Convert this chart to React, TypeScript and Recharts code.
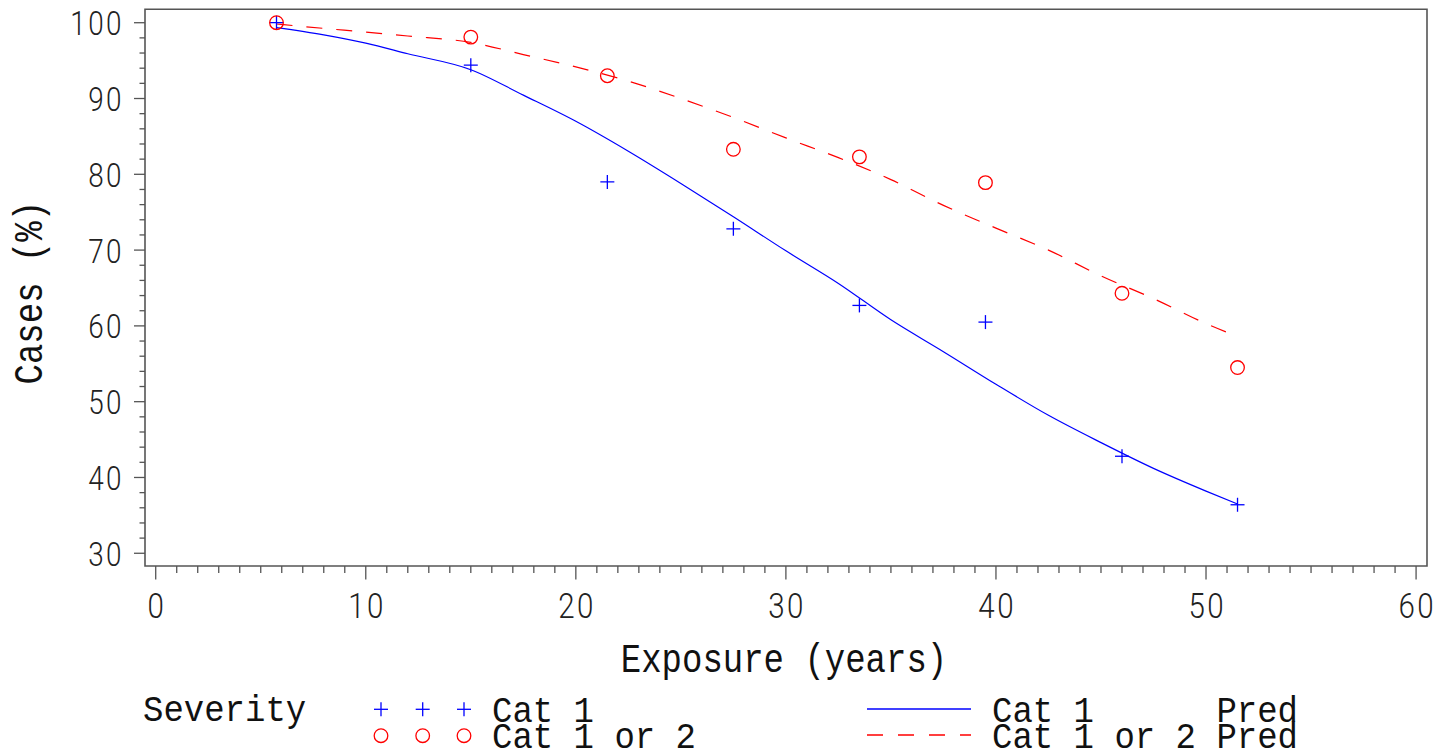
import React from "react";
import {
  ComposedChart,
  Line,
  Scatter,
  XAxis,
  YAxis,
  ReferenceArea,
  Legend,
  Label,
} from "recharts";

const BLUE = "#0000ff";
const RED = "#ff0000";
const FRAME = "#555555";
const TEXT_FONT = "'Liberation Mono', monospace";
const TICK_FONT = "Roboto, 'Liberation Sans', sans-serif";

// observed points
const exposure = [5.75, 15, 21.5, 27.5, 33.5, 39.5, 46, 51.5];
const cat1 = [100, 94.4, 79, 72.8, 62.7, 60.5, 42.8, 36.4];
const cat1or2 = [100, 98.1, 93, 83.3, 82.3, 78.9, 64.3, 54.5];

// fitted curves
const predExposure = [
  5.75, 8, 10, 12, 15, 17.5, 20, 22.5, 25, 27.5, 30, 32.5, 35, 37.5, 40, 42.5,
  45, 47.5, 50, 51.5,
];
const cat1Pred = [
  99.35, 98.4, 97.3, 95.9, 93.8, 90.45, 87.0, 83.05, 78.8, 74.4, 69.9, 65.6,
  60.8, 56.6, 52.3, 48.2, 44.6, 41.2, 38.2, 36.5,
];
const cat1or2Pred = [
  99.83, 99.25, 98.77, 98.25, 97.4, 95.8, 94.17, 92.3, 90.0, 87.5, 84.8, 82.2,
  79.3, 75.9, 72.9, 70.0, 66.6, 63.6, 60.3, 58.6,
];

const xLabels = [0, 10, 20, 30, 40, 50, 60];
const yLabels = [30, 40, 50, 60, 70, 80, 90, 100];
const xTicks = Array.from({ length: 61 }, (_, i) => i);
const yTicks = Array.from({ length: 36 }, (_, i) => 30 + i * 2);

const legendTitle = "Severity";
const legendPoints = ["Cat 1", "Cat 1 or 2"];
const legendLines = ["Cat 1      Pred", "Cat 1 or 2 Pred"];

const toXY = (xs: number[], ys: number[]) => xs.map((x, i) => ({ x, y: ys[i] }));
const cat1Data = toXY(exposure, cat1);
const cat1or2Data = toXY(exposure, cat1or2);
const cat1PredData = toXY(predExposure, cat1Pred);
const cat1or2PredData = toXY(predExposure, cat1or2Pred);

const Txt = ({ x, y, text, size, sx = 1, sy = 1, anchor = "start", font = TEXT_FONT, rotate = 0, fill = "#111", ls = 0, weight = 400 }: any) => (
  <text
    transform={`translate(${x},${y}) rotate(${rotate}) scale(${sx},${sy})`}
    fontSize={size}
    fontFamily={font}
    fontWeight={weight}
    textAnchor={anchor}
    fill={fill}
    letterSpacing={ls}
    style={{ whiteSpace: "pre" }}
  >
    {text}
  </text>
);

const Plus = ({ cx, cy, color }: any) => (
  <g stroke={color} strokeWidth={1.3}>
    <line x1={cx - 7} y1={cy} x2={cx + 7} y2={cy} />
    <line x1={cx} y1={cy - 7} x2={cx} y2={cy + 7} />
  </g>
);

const Ring = ({ cx, cy, color }: any) => (
  <circle cx={cx} cy={cy} r={6.8} fill="none" stroke={color} strokeWidth={1.3} />
);

const XTick = ({ x, y, payload }: any) => {
  const major = xLabels.includes(payload.value);
  return (
    <g>
      <line x1={x} y1={y} x2={x} y2={y + (major ? 13.5 : 7)} stroke={FRAME} strokeWidth={1.3} />
      {major && (
        <Txt x={x + 1.2} y={y + 52} text={String(payload.value)} size={36} sx={0.82} ls={3} anchor="middle" font={TICK_FONT} weight={300} fill="#222" />
      )}
    </g>
  );
};

const YTick = ({ x, y, payload }: any) => {
  const major = yLabels.includes(payload.value);
  return (
    <g>
      <line x1={x} y1={y} x2={x - (major ? 11 : 5.5)} y2={y} stroke={FRAME} strokeWidth={1.3} />
      {major && (
        <Txt x={x - 21} y={y + 12.5} text={String(payload.value)} size={34} sx={0.82} ls={3} anchor="end" font={TICK_FONT} weight={300} fill="#222" />
      )}
    </g>
  );
};

const XTitle = ({ viewBox }: any) => (
  <Txt x={viewBox.x + viewBox.width / 2 - 2} y={viewBox.y + 106} text="Exposure (years)" size={34} sy={1.2} anchor="middle" />
);

const YTitle = ({ viewBox }: any) => (
  <Txt x={33.5} y={viewBox.y + viewBox.height / 2 + 5} text="Cases (%)" size={34} sy={1.2} anchor="middle" rotate={-90} />
);

const LegendBox = () => (
  <svg width={1425} height={64} style={{ display: "block", overflow: "visible" }}>
    <Txt x={135} y={29} text={legendTitle} size={34} sy={1.1} />
    {[373, 414.7, 456].map((cx) => (
      <React.Fragment key={cx}>
        <Plus cx={cx} cy={17.3} color={BLUE} />
        <Ring cx={cx} cy={43.7} color={RED} />
      </React.Fragment>
    ))}
    <Txt x={484} y={29.5} text={legendPoints[0]} size={34} sy={1.1} />
    <Txt x={484} y={56} text={legendPoints[1]} size={34} sy={1.1} />
    <line x1={859} y1={17} x2={963} y2={17} stroke={BLUE} strokeWidth={1.3} />
    <line x1={859} y1={43} x2={963} y2={43} stroke={RED} strokeWidth={1.3} strokeDasharray="16 15" />
    <Txt x={984} y={29.5} text={legendLines[0]} size={34} sy={1.1} />
    <Txt x={984} y={56} text={legendLines[1]} size={34} sy={1.1} />
  </svg>
);

export default function App() {
  return (
    <ComposedChart width={1425} height={748} margin={{ top: 1.3, right: 6, left: 0, bottom: 0 }}>
      <XAxis
        type="number"
        dataKey="x"
        domain={[-0.51, 60.52]}
        ticks={xTicks}
        interval={0}
        tickSize={0}
        tickMargin={0}
        tick={(p: any) => <XTick {...p} />}
        axisLine={false}
        height={126}
        allowDataOverflow
        label={<Label content={XTitle} />}
      />
      <YAxis
        type="number"
        dataKey="y"
        domain={[28.32, 101.77]}
        ticks={yTicks}
        interval={0}
        tickSize={0}
        tickMargin={0}
        tick={(p: any) => <YTick {...p} />}
        axisLine={false}
        width={137}
        allowDataOverflow
        label={<Label content={YTitle} />}
      />
      <ReferenceArea x1={-0.51} x2={60.52} y1={28.32} y2={101.77} fill="none" stroke={FRAME} strokeWidth={1.6} />
      <Line data={cat1PredData} dataKey="y" type="monotone" stroke={BLUE} strokeWidth={1.2} dot={false} isAnimationActive={false} />
      <Line data={cat1or2PredData} dataKey="y" type="monotone" stroke={RED} strokeWidth={1.2} strokeDasharray="16 14" dot={false} isAnimationActive={false} />
      <Scatter data={cat1Data} shape={(p: any) => <Plus cx={p.cx} cy={p.cy} color={BLUE} />} isAnimationActive={false} />
      <Scatter data={cat1or2Data} shape={(p: any) => <Ring cx={p.cx} cy={p.cy} color={RED} />} isAnimationActive={false} />
      <Legend verticalAlign="bottom" content={() => <LegendBox />} wrapperStyle={{ left: 0, bottom: 0, width: 1425, height: 64 }} />
    </ComposedChart>
  );
}
